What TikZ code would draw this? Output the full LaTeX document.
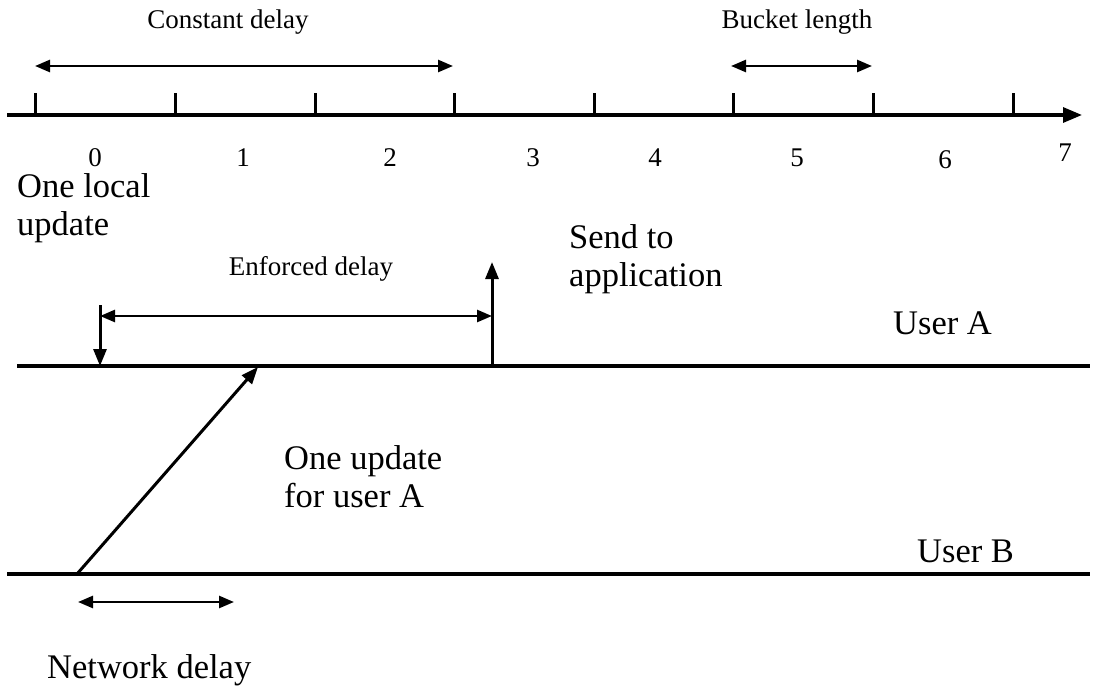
\documentclass[tikz,border=0pt]{standalone}
\usepackage{fontspec}
\setmainfont{Liberation Serif}
\usetikzlibrary{arrows.meta}
\begin{document}
\begin{tikzpicture}[x=1pt,y=-1pt,
  axis/.style={line width=3.2pt},
  tickmark/.style={line width=3pt},
  dim/.style={line width=2.6pt,{Triangle[length=15pt,width=12pt]}-{Triangle[length=15pt,width=12pt]}},
  ptr/.style={line width=3pt,-{Triangle[length=17pt,width=13pt]}},
  big/.style={font=\fontsize{34.5}{38}\selectfont, inner sep=0pt, align=left},
  small/.style={font=\fontsize{27}{30}\selectfont, inner sep=0pt},
  mid/.style={font=\fontsize{27}{30}\selectfont, inner sep=0pt},
]
\useasboundingbox (0,0) rectangle (1096,691);

% time axis with bucket boundaries
\coordinate (ax0) at (7,115);
\coordinate (ax1) at (1082,115);
\draw[axis,-{Triangle[length=19pt,width=15pt]}] (ax0) -- (ax1);
\foreach \x [count=\i from 0] in {35,175,315,454,594,733,873,1013} {
  \coordinate (k\i) at (\x,115);
  \draw[tickmark] (k\i) -- ++(0,-22);
}

% bucket numbers
\foreach \x/\y/\n in {95/158/0,243/158/1,390/158/2,533/158/3,655/158/4,797/158/5,945/160/6,1065/153/7}
  \node[small] (b\n) at (\x,\y) {\n};

% constant delay and bucket length
\coordinate (cd0) at (35,66);
\coordinate (cd1) at (453,66);
\draw[dim] (cd0) -- (cd1);
\node[small] (cdl) at (228,22) {Constant delay};

\coordinate (bl0) at (731,66);
\coordinate (bl1) at (872,66);
\draw[dim] (bl0) -- (bl1);
\node[small] (bll) at (797,22) {Bucket length};

% user A time line
\coordinate (ua0) at (17,366);
\coordinate (ua1) at (1090,366);
\draw[axis] (ua0) -- (ua1);
\node[big, anchor=west] (usera) at (893,323) {User A};

\coordinate (lu0) at (100,305);
\coordinate (lu1) at (100,366);
\draw[ptr] (lu0) -- (lu1);
\node[big, anchor=west] (local) at (17,208) {One local\\update};

\coordinate (sa0) at (492,366);
\coordinate (sa1) at (492,262);
\draw[ptr] (sa0) -- (sa1);
\node[big, anchor=west] (send) at (569,259) {Send to\\application};

\coordinate (ed0) at (100,316);
\coordinate (ed1) at (492,316);
\draw[dim] (ed0) -- (ed1);
\node[mid] (edl) at (311,269) {Enforced delay};

% user B time line
\coordinate (ub0) at (7,574);
\coordinate (ub1) at (1090,574);
\draw[axis] (ub0) -- (ub1);
\node[big, anchor=west] (userb) at (917,551) {User B};

% update sent from B to A
\coordinate (up0) at (77,574);
\coordinate (up1) at (258,367);
\draw[ptr] (up0) -- (up1);
\node[big, anchor=west] (upd) at (284,477) {One update\\for user A};

\coordinate (nd0) at (78,602);
\coordinate (nd1) at (234,602);
\draw[dim] (nd0) -- (nd1);
\node[big, anchor=west] (ndl) at (47,670) {Network delay};
\end{tikzpicture}
\end{document}
